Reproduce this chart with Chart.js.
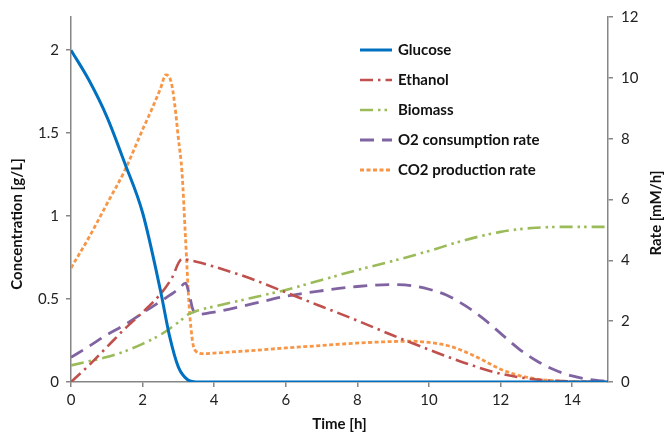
<!DOCTYPE html>
<html>
<head>
<meta charset="utf-8">
<script src="https://cdn.jsdelivr.net/npm/chart.js@4"></script>
<style>
html,body{margin:0;padding:0;background:#fff;}
#wrap{width:665px;height:433px;}
</style>
</head>
<body>
<div id="wrap"><canvas id="c" width="665" height="433"></canvas></div>
<script>
// ---- Data ----
const xTicks = [0, 2, 4, 6, 8, 10, 12, 14];
const yLeftTicks = [0, 0.5, 1, 1.5, 2];
const yRightTicks = [0, 2, 4, 6, 8, 10, 12];

const tGlucose = [0, 0.5, 1, 1.5, 2, 2.5, 2.75, 3, 3.25, 3.5, 4, 15];
const glucose  = [2.0, 1.82, 1.6, 1.32, 1.02, 0.55, 0.28, 0.09, 0.015, 0, 0, 0];

const tEthanol = [0, 0.5, 1, 1.5, 2, 2.5, 2.8, 3.1, 3.5, 4, 5, 6, 7, 8, 9, 10, 11, 12, 13, 14, 15];
const ethanol  = [0, 0.1, 0.21, 0.32, 0.42, 0.53, 0.62, 0.74, 0.725, 0.695, 0.625, 0.54, 0.455, 0.37, 0.28, 0.195, 0.115, 0.05, 0.015, 0.003, 0];

const tBiomass = [0, 0.5, 1, 1.5, 2, 2.5, 3, 3.3, 3.6, 4, 5, 6, 7, 8, 9, 10, 11, 12, 13, 14, 15];
const biomass  = [0.1, 0.125, 0.15, 0.185, 0.23, 0.285, 0.36, 0.41, 0.435, 0.455, 0.505, 0.555, 0.615, 0.675, 0.73, 0.79, 0.855, 0.905, 0.93, 0.935, 0.935];

const tO2 = [0, 0.5, 1, 1.5, 2, 2.5, 3, 3.2, 3.3, 3.4, 3.5, 4, 5, 6, 7, 8, 9, 9.5, 10, 10.5, 11, 11.5, 12, 12.5, 13, 13.5, 14, 14.5, 15];
const o2Rate = [0.81, 1.17, 1.55, 1.88, 2.27, 2.65, 3.05, 3.25, 2.9, 2.4, 2.22, 2.3, 2.55, 2.82, 3.0, 3.14, 3.2, 3.17, 3.05, 2.85, 2.52, 2.1, 1.6, 1.1, 0.7, 0.4, 0.2, 0.08, 0.02];

const tCO2 = [0, 0.5, 1, 1.5, 2, 2.25, 2.5, 2.65, 2.8, 2.9, 3.0, 3.1, 3.2, 3.3, 3.4, 3.5, 3.7, 4, 5, 6, 7, 8, 9, 9.5, 10, 10.5, 11, 11.5, 12, 12.5, 13, 13.5, 14, 15];
const co2Rate = [3.75, 4.75, 5.85, 6.95, 8.3, 8.95, 9.65, 10.1, 9.85, 9.1, 8.0, 6.9, 4.7, 2.5, 1.3, 1.0, 0.93, 0.95, 1.03, 1.12, 1.2, 1.28, 1.33, 1.34, 1.3, 1.2, 1.0, 0.72, 0.42, 0.22, 0.1, 0.04, 0.015, 0];

const seriesNames = ['Glucose', 'Ethanol', 'Biomass', 'O2 consumption rate', 'CO2 production rate'];
const leftTitle = 'Concentration [g/L]';
const rightTitle = 'Rate [mM/h]';
const bottomTitle = 'Time [h]';

// ---- Build ----
const pts = (ts, vs) => ts.map((t, i) => ({x: t, y: vs[i]}));
const FONT = 'Lato, "Open Sans", sans-serif';
const AXIS = '#868686';
const TXT = 15;

function ds(label, data, color, dash, axis, width) {
  return {
    label, data, borderColor: color, backgroundColor: color,
    borderDash: dash, borderWidth: width, yAxisID: axis,
    pointRadius: 0, pointHoverRadius: 0, fill: false,
    cubicInterpolationMode: 'monotone', borderCapStyle: 'butt'
  };
}

const datasets = [
  ds(seriesNames[0], pts(tGlucose, glucose), '#0070C0', [], 'y', 3),
  ds(seriesNames[1], pts(tEthanol, ethanol), '#C0504D', [13, 5, 2.5, 5], 'y', 2.6),
  ds(seriesNames[2], pts(tBiomass, biomass), '#9BBB59', [13, 5, 2.5, 4, 2.5, 5], 'y', 2.6),
  ds(seriesNames[3], pts(tO2, o2Rate), '#8064A2', [14, 8], 'y1', 2.8),
  ds(seriesNames[4], pts(tCO2, co2Rate), '#F79646', [4, 2.5], 'y1', 2.8)
];

const customDraw = {
  id: 'customDraw',
  afterDraw(chart) {
    const ctx = chart.ctx;
    ctx.save();
    // legend
    const lx0 = 360, lx1 = 392, tx = 398;
    const rows = [50, 80, 110, 140, 170];
    chart.data.datasets.forEach((d, i) => {
      const y = rows[i];
      ctx.beginPath();
      ctx.setLineDash(d.borderDash || []);
      ctx.lineWidth = d.borderWidth;
      ctx.strokeStyle = d.borderColor;
      ctx.moveTo(lx0, y); ctx.lineTo(lx1, y);
      ctx.stroke();
      ctx.setLineDash([]);
      ctx.fillStyle = '#111';
      ctx.font = 'bold ' + TXT + 'px ' + FONT;
      ctx.textAlign = 'left';
      ctx.textBaseline = 'middle';
      ctx.fillText(d.label, tx, y);
    });
    // vertical axis titles (both read bottom-to-top)
    ctx.font = 'bold ' + TXT + 'px ' + FONT;
    ctx.fillStyle = '#111';
    ctx.textAlign = 'center';
    ctx.textBaseline = 'middle';
    ctx.translate(17, 224);
    ctx.rotate(-Math.PI / 2);
    ctx.fillText(leftTitle, 0, 0);
    ctx.setTransform(1, 0, 0, 1, 0, 0);
    ctx.translate(656, 213);
    ctx.rotate(-Math.PI / 2);
    ctx.fillText(rightTitle, 0, 0);
    ctx.restore();
  }
};

const keepTicks = (list) => (scale) => {
  scale.ticks = list.map(v => ({value: v}));
};
const plain = (v) => String(v);

new Chart(document.getElementById('c'), {
  type: 'line',
  data: {datasets},
  plugins: [customDraw],
  options: {
    responsive: false,
    animation: false,
    devicePixelRatio: 1,
    layout: {padding: {top: 17, left: 0, right: 0, bottom: 0}},
    plugins: {legend: {display: false}, tooltip: {enabled: false}},
    scales: {
      x: {
        type: 'linear', min: 0, max: 15,
        afterBuildTicks: keepTicks(xTicks),
        afterFit: (s) => { s.height = 51; },
        ticks: {font: {family: FONT, size: TXT}, color: '#222', padding: 4, maxRotation: 0, callback: plain},
        grid: {drawOnChartArea: false, drawTicks: true, tickLength: 5, color: AXIS, lineWidth: 1.5},
        border: {color: AXIS, width: 1.5},
        title: {display: true, text: bottomTitle, font: {family: FONT, size: TXT, weight: 'bold'}, color: '#111', padding: {top: 0, bottom: 0}}
      },
      y: {
        type: 'linear', position: 'left', min: 0, max: 2.2,
        afterBuildTicks: keepTicks(yLeftTicks),
        afterFit: (s) => { s.width = 71; },
        ticks: {font: {family: FONT, size: TXT}, color: '#222', padding: 7, callback: plain},
        grid: {drawOnChartArea: false, drawTicks: true, tickLength: 5, color: AXIS, lineWidth: 1.5},
        border: {color: AXIS, width: 1.5}
      },
      y1: {
        type: 'linear', position: 'right', min: 0, max: 12,
        afterBuildTicks: keepTicks(yRightTicks),
        afterFit: (s) => { s.width = 57; },
        ticks: {font: {family: FONT, size: TXT}, color: '#222', padding: 8, callback: plain},
        grid: {drawOnChartArea: false, drawTicks: true, tickLength: 5, color: AXIS, lineWidth: 1.5},
        border: {color: AXIS, width: 1.5}
      }
    }
  }
});
</script>
</body>
</html>
